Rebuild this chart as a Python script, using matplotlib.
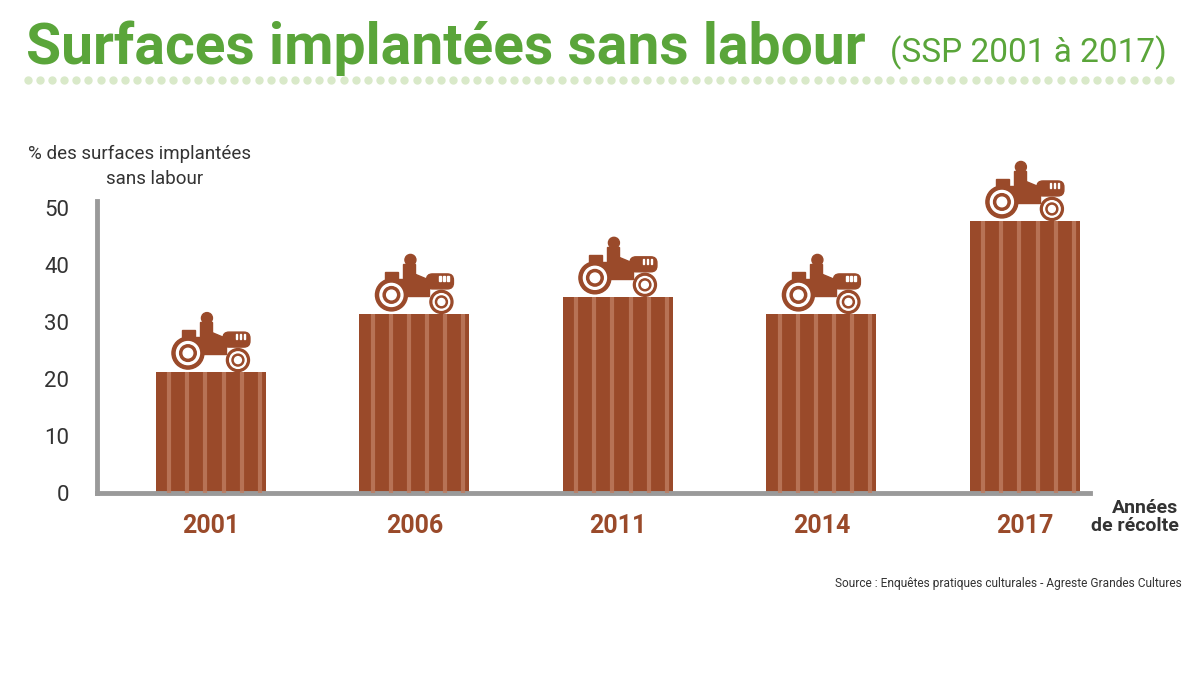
import matplotlib
matplotlib.use("Agg")
import matplotlib.pyplot as plt
from matplotlib import patches, transforms
import numpy as np

years = ["2001", "2006", "2011", "2014", "2017"]
values = [21.2, 31.4, 34.4, 31.4, 47.7]
yticks = [0, 10, 20, 30, 40, 50]

FAM = ["Roboto", "DejaVu Sans"]
plt.rcParams['font.family'] = FAM
BROWN = "#9a4a2a"
STRIPE = "#bf7d60"
GREEN = "#5aa53a"
GRAY = "#9a9a9a"

fig = plt.figure(figsize=(12, 6.75), dpi=100)
ax = fig.add_axes([97/1200, (675-493)/675, (1090-97)/1200, 292/675])
x = list(range(len(years)))
w = 0.54
ax.bar(x, values, width=w, color=BROWN, zorder=2)
for xi, v in zip(x, values):
    for k in range(6):
        sx = xi - w/2 + w*(0.12 + k*0.165)
        ax.plot([sx, sx], [0, v], color=STRIPE, lw=3, alpha=0.8, zorder=3, solid_capstyle='butt')
ax.set_xlim(-0.56, 4.32)
ax.set_ylim(0, 51.2)
for s in ["top", "right"]:
    ax.spines[s].set_visible(False)
for s in ["left", "bottom"]:
    ax.spines[s].set_color(GRAY)
    ax.spines[s].set_linewidth(3.5)
ax.set_yticks(yticks)
ax.set_yticklabels([str(t) for t in yticks], fontsize=16, color="#333333")
ax.tick_params(axis='y', length=0, pad=20)
ax.set_xticks(x)
ax.set_xticklabels(years, fontsize=18, fontweight='bold', color=BROWN)
ax.tick_params(axis='x', length=0, pad=15)

def tractor(xc, top):
    tr = fig.dpi_scale_trans + transforms.ScaledTranslation(xc, top, ax.transData)
    def P(p):
        p.set_transform(tr); p.set_clip_on(False); p.set_zorder(5); ax.add_artist(p)
    P(patches.Rectangle((-0.25, 0.18), 0.40, 0.17, color=BROWN))
    P(patches.FancyBboxPatch((0.12, 0.25), 0.27, 0.15, boxstyle="round,pad=0,rounding_size=0.06", color=BROWN))
    P(patches.Rectangle((-0.29, 0.34), 0.13, 0.08, color=BROWN))
    P(patches.Rectangle((-0.11, 0.32), 0.12, 0.18, color=BROWN))
    P(patches.Circle((-0.04, 0.54), 0.055, color=BROWN))
    P(patches.Polygon([(0.0, 0.40), (0.12, 0.35), (0.12, 0.31), (-0.02, 0.34)], color=BROWN))
    for cx, cy, r in [(-0.23, 0.19, 0.16), (0.27, 0.12, 0.115)]:
        P(patches.Circle((cx, cy), r, color=BROWN))
        P(patches.Circle((cx, cy), r*0.72, color="white"))
        P(patches.Circle((cx, cy), r*0.52, color=BROWN))
        P(patches.Circle((cx, cy), r*0.3, color="white"))
    for xx in [0.25, 0.29, 0.33]:
        P(patches.Rectangle((xx, 0.33), 0.015, 0.05, color="white"))

for xi, v in zip(x, values):
    tractor(xi, v)

fig.text(0.022, 0.905, "Surfaces implantées sans labour", fontsize=41, fontweight='bold', color=GREEN)
fig.text(0.742, 0.907, "(SSP 2001 à 2017)", fontsize=24, color=GREEN)
dx = np.linspace(0.023, 0.975, 95)
fig.add_artist(plt.Line2D(dx, [0.881]*len(dx), ls='none', marker='o', ms=5, color="#d9e9c9", transform=fig.transFigure))
fig.text(0.023, 0.765, "% des surfaces implantées", fontsize=13.5, color="#333333")
fig.text(0.088, 0.728, "sans labour", fontsize=13.5, color="#333333")
fig.text(0.982, 0.213, "Années\nde récolte", fontsize=14, fontweight='bold', color="#333333", ha='right', linespacing=1.0)
fig.text(0.985, 0.13, "Source : Enquêtes pratiques culturales - Agreste Grandes Cultures", fontsize=8.6, color="#333333", ha='right')
fig.savefig("out.png", dpi=100)
